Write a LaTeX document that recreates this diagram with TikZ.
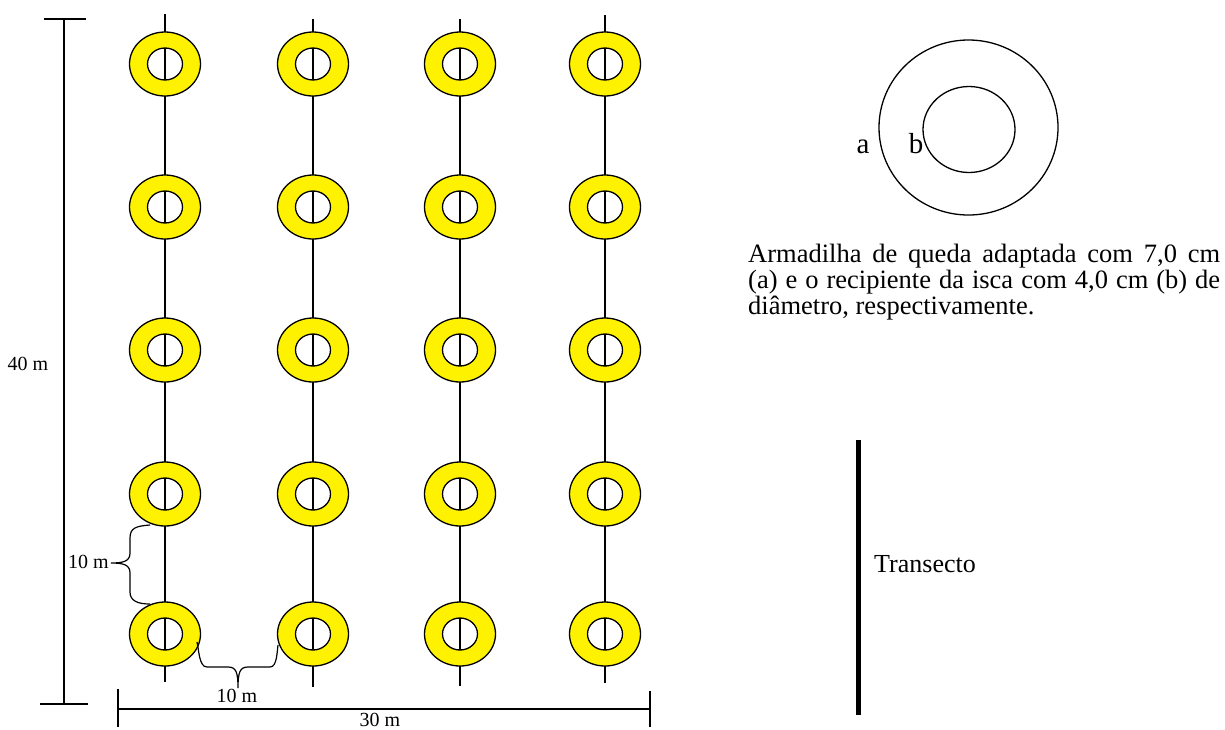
\documentclass[tikz,border=0pt]{standalone}
\usepackage{fontspec}
\setmainfont{Liberation Serif}
\begin{document}
\begin{tikzpicture}[x=1pt,y=-1pt,
  thin line/.style={line width=1.2pt,black},
  ringfill/.style={fill=yellow,even odd rule},
  ringline/.style={line width=1.3pt,black},
  small/.style={font=\fontsize{20}{22}\selectfont,inner sep=0pt},
  big/.style={font=\fontsize{26.5}{27}\selectfont,inner sep=0pt,anchor=base west},
  letter/.style={font=\fontsize{29}{30}\selectfont,inner sep=0pt,anchor=base}]
\useasboundingbox (0,0) rectangle (1225,729);
% transect lines
\foreach \x/\t/\b [count=\i] in {165/14/682,313/19/687,460/19/686,605/15/683}{
  \coordinate (t\i) at (\x,\t);
  \coordinate (b\i) at (\x,\b);
  \draw[thin line] (t\i) -- (b\i);
}
% rings
\foreach \x [count=\i] in {165,313,460,605}{
  \foreach \y [count=\j] in {64,207,350,494,634}{
    \coordinate (r\i\j) at (\x,\y);
    \fill[ringfill] (r\i\j) ellipse [x radius=35.5,y radius=32]
                    (r\i\j) ellipse [x radius=17.5,y radius=16];
    \draw[ringline] (r\i\j) ellipse [x radius=35.5,y radius=32];
    \draw[ringline] (r\i\j) ellipse [x radius=17.5,y radius=16];
  }
}
% 40 m dimension
\coordinate (d40a) at (64,19);
\coordinate (d40b) at (64,704);
\draw[thin line] (d40a) -- (d40b);
\draw[thin line] (44,19) -- (86,19);
\draw[thin line] (40,704) -- (88,704);
\node[small] (l40) at (28,364) {40 m};
% 30 m dimension
\coordinate (d30a) at (118,709);
\coordinate (d30b) at (650,709);
\draw[thin line] (d30a) -- (d30b);
\draw[thin line] (118,689) -- (118,727);
\draw[thin line] (650,691) -- (650,727);
\node[small] (l30) at (380,720) {30 m};
% vertical brace
\coordinate (vb1) at (150,525);
\coordinate (vbt) at (111,563);
\coordinate (vb2) at (150,604);
\draw[thin line] (vb1) .. controls (136,526) and (130,528) .. (130,538)
  -- (130,553) .. controls (130,561) and (124,563) .. (vbt)
  .. controls (124,563) and (130,565) .. (130,573)
  -- (130,592) .. controls (130,601) and (138,604) .. (vb2);
\node[small,anchor=east] (l10v) at (109,562) {10 m};
% horizontal brace
\coordinate (hb1) at (197,642);
\coordinate (hbt) at (238,688);
\coordinate (hb2) at (278,645);
\draw[thin line] (hb1) .. controls (199,650) and (199,667) .. (207,667)
  -- (228,667) .. controls (236,667) and (238,672) .. (hbt)
  .. controls (238,672) and (240,667) .. (248,667)
  -- (270,667) .. controls (277,667) and (277,652) .. (hb2);
\node[small] (l10h) at (237,696) {10 m};
% trap detail
\coordinate (trap) at (968.5,127.5);
\draw[ringline] (trap) ellipse [x radius=89.5,y radius=87.5];
\draw[ringline] (969,129.5) ellipse [x radius=46,y radius=43];
\node[letter] (la) at (863,153) {a};
\node[letter] (lb) at (916,153) {b};
% caption
\node[big] (cap1) at (748,262) {\makebox[472pt][s]{Armadilha de queda adaptada com 7,0 cm}};
\node[big] (cap2) at (748,288) {\makebox[472pt][s]{(a) e o recipiente da isca com 4,0 cm (b) de}};
\node[big] (cap3) at (748,314) {diâmetro, respectivamente.};
% transect legend
\coordinate (tr1) at (858,440);
\coordinate (tr2) at (858,715);
\draw[line width=5pt,black] (tr1) -- (tr2);
\node[big,font=\fontsize{26}{27}\selectfont] (ltr) at (874,572) {Transecto};
\end{tikzpicture}
\end{document}
